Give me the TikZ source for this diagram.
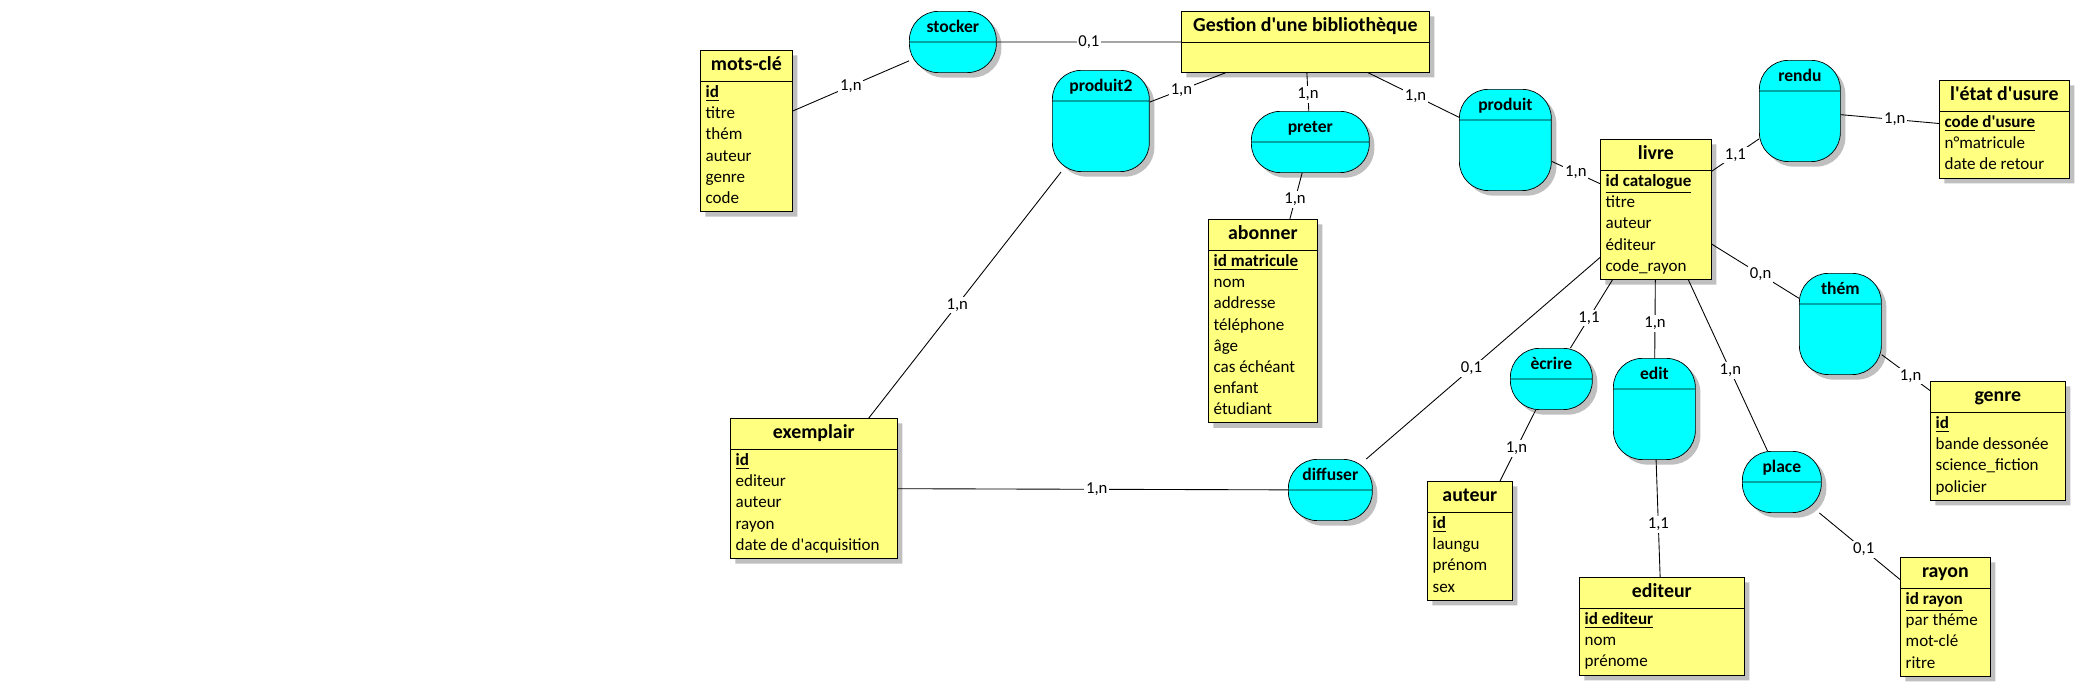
\documentclass[tikz,border=0pt]{standalone}
\usepackage{fontspec}
\setmainfont{Carlito}
\usetikzlibrary{shapes.multipart,shadows}

\definecolor{jaune}{RGB}{255,255,128}
\definecolor{turquoise}{RGB}{0,255,255}
\newcommand{\titre}{\fontsize{11.3}{15}\selectfont\bfseries\strut}
\newcommand{\cle}[1]{\underline{\textbf{#1}}}
\newcommand{\apo}{\textquotesingle}

\tikzset{
  ombre/.style={drop shadow={shadow xshift=0.1cm,shadow yshift=-0.1cm,fill=black!25,opacity=1}},
  entite/.style={rectangle split,rectangle split parts=2,draw,fill=jaune,ombre,
    anchor=north west,minimum width=#1,inner xsep=3pt,inner ysep=1pt,
    align=left,rectangle split part align={center,left},
    font=\fontsize{9.7}{12}\selectfont},
  asso/.style={rectangle split,rectangle split parts=2,draw,fill=turquoise,ombre,
    anchor=north west,minimum width=#1,inner sep=0pt,rounded corners=0.58cm,
    rectangle split part align={center,center},
    font=\fontsize{10}{17}\selectfont\bfseries},
  lien/.style={line width=0.5pt},
  card/.style={fill=white,inner sep=1pt,font=\fontsize{9.5}{11}\selectfont}
}

\begin{document}
\begin{tikzpicture}[x=0.02cm,y=-0.02cm]
\fill[white] (0,0) rectangle (2080,690);
\useasboundingbox (0,0) rectangle (2080,690);

% entites
\node[entite=1.84cm] (motscle) at (700,50) {\titre mots-clé
  \nodepart{two}\strut\cle{id}\\titre\\thém\\auteur\\genre\\code\strut};
\node[entite=4.96cm] (gestion) at (1181,11) {\titre Gestion d\apo une bibliothèque
  \nodepart{two}\rule{0pt}{15pt}};
\node[entite=2.22cm] (livre) at (1600,139) {\titre livre
  \nodepart{two}\strut\cle{id catalogue}\\titre\\auteur\\éditeur\\code\_rayon\strut};
\node[entite=2.60cm] (usure) at (1939,80) {\titre l\apo état d\apo usure
  \nodepart{two}\strut\cle{code d\apo usure}\\n°matricule\\date de retour\strut};
\node[entite=2.18cm] (abonner) at (1208,219) {\titre abonner
  \nodepart{two}\strut\cle{id matricule}\\nom\\addresse\\téléphone\\âge\\cas échéant\\enfant\\étudiant\strut};
\node[entite=2.70cm] (genre) at (1930,381) {\titre genre
  \nodepart{two}\strut\cle{id}\\bande dessonée\\science\_fiction\\policier\strut};
\node[entite=3.34cm] (exemplair) at (730,418) {\titre exemplair
  \nodepart{two}\strut\cle{id}\\editeur\\auteur\\rayon\\date de d\apo acquisition\strut};
\node[entite=1.70cm] (auteur) at (1427,481) {\titre auteur
  \nodepart{two}\strut\cle{id}\\laungu\\prénom\\sex\strut};
\node[entite=3.30cm] (editeur) at (1579,577) {\titre editeur
  \nodepart{two}\strut\cle{id editeur}\\nom\\prénome\strut};
\node[entite=1.80cm] (rayon) at (1900,557) {\titre rayon
  \nodepart{two}\strut\cle{id rayon}\\par théme\\mot-clé\\ritre\strut};

% associations
\node[asso=1.74cm] (stocker) at (909,11) {\strut stocker\nodepart{two}\rule{0pt}{0.6cm}};
\node[asso=1.94cm] (produit2) at (1052,70) {\strut produit2\nodepart{two}\rule{0pt}{1.4cm}};
\node[asso=2.36cm] (preter) at (1251,111) {\strut preter\nodepart{two}\rule{0pt}{0.6cm}};
\node[asso=1.84cm] (produit) at (1459,89) {\strut produit\nodepart{two}\rule{0pt}{1.4cm}};
\node[asso=1.62cm] (rendu) at (1759,60) {\strut rendu\nodepart{two}\rule{0pt}{1.4cm}};
\node[asso=1.64cm] (them) at (1799,273) {\strut thém\nodepart{two}\rule{0pt}{1.4cm}};
\node[asso=1.68cm] (diffuser) at (1288,459) {\strut diffuser\nodepart{two}\rule{0pt}{0.6cm}};
\node[asso=1.64cm] (ecrire) at (1510,348) {\strut ècrire\nodepart{two}\rule{0pt}{0.6cm}};
\node[asso=1.64cm] (edit) at (1613,358) {\strut edit\nodepart{two}\rule{0pt}{1.4cm}};
\node[asso=1.58cm] (place) at (1742,451) {\strut place\nodepart{two}\rule{0pt}{0.6cm}};

% liens
\draw[lien] (motscle) -- node[card] (k1) {1,n} (stocker);
\draw[lien] (stocker) -- node[card] (k2) {0,1} (gestion);
\draw[lien] (gestion) -- node[card,pos=0.58] (k3) {1,n} (produit2);
\draw[lien] (gestion) -- node[card,pos=0.57] (k4) {1,n} (preter);
\draw[lien] (gestion) -- node[card,pos=0.52] (k5) {1,n} (produit);
\draw[lien] (preter) -- node[card,pos=0.58] (k6) {1,n} (abonner);
\draw[lien] (produit) -- node[card] (k7) {1,n} (livre);
\draw[lien] (livre) -- node[card] (k8) {1,1} (rendu);
\draw[lien] (rendu) -- node[card,pos=0.55] (k9) {1,n} (usure);
\draw[lien] (livre) -- node[card,pos=0.56] (k10) {0,n} (them);
\draw[lien] (them) -- node[card,pos=0.6] (k11) {1,n} (genre);
\draw[lien] (produit2) -- node[card,pos=0.54] (k12) {1,n} (exemplair);
\draw[lien] (livre) -- node[card,pos=0.55] (k13) {0,1} (diffuser);
\draw[lien] (livre) -- node[card,pos=0.56] (k14) {1,1} (ecrire);
\draw[lien] (livre) -- node[card,pos=0.56] (k15) {1,n} (edit);
\draw[lien] (livre) -- node[card,pos=0.53] (k16) {1,n} (place);
\draw[lien] (ecrire) -- node[card,pos=0.54] (k17) {1,n} (auteur);
\draw[lien] (edit) -- node[card,pos=0.55] (k18) {1,1} (editeur);
\draw[lien] (place) -- node[card,pos=0.55] (k19) {0,1} (rayon);
\draw[lien] (exemplair) -- node[card,pos=0.51] (k20) {1,n} (diffuser);
\end{tikzpicture}
\end{document}
